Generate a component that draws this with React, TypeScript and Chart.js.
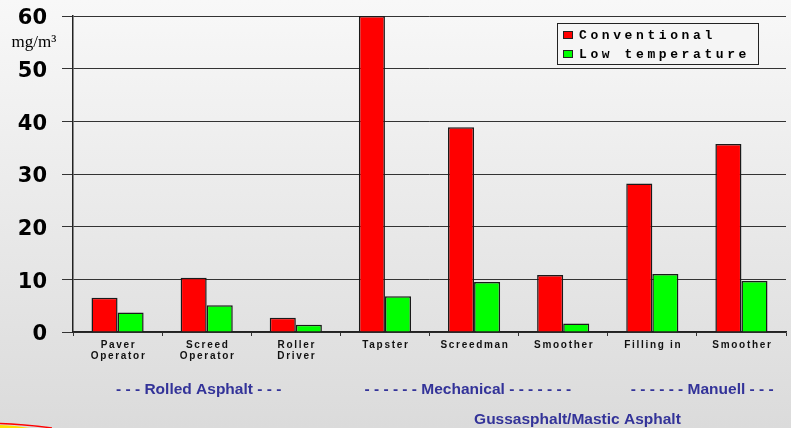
import React, { useEffect, useRef } from "react";
import { Chart, registerables } from "chart.js";

Chart.register(...registerables);

const categories: string[][] = [
  ["Paver", "Operator"],
  ["Screed", "Operator"],
  ["Roller", "Driver"],
  ["Tapster"],
  ["Screedman"],
  ["Smoother"],
  ["Filling in"],
  ["Smoother"],
];
const conventional = [6.5, 10.3, 2.7, 60, 38.9, 10.8, 28.2, 35.7];
const lowTemperature = [3.7, 5.1, 1.4, 6.8, 9.5, 1.6, 11.0, 9.7];
const seriesNames = ["Conventional", "Low temperature"];
const yTicks = [0, 10, 20, 30, 40, 50, 60];
const unitLabel = "mg/m³";
const groupLabels = [
  "- - - Rolled Asphalt - - -",
  "- - - - - - Mechanical - - - - - - -",
  "- - - - - - Manuell - - -",
  "Gussasphalt/Mastic Asphalt",
];
// centers of group labels in category-index units
const groupCenters = [0.91, 3.93, 6.56, 5.16];
const groupRows = [0, 0, 0, 1];

const decorPlugin = {
  id: "decor",
  beforeDraw(chart: any) {
    const { ctx, width, height } = chart;
    ctx.save();
    const g = ctx.createLinearGradient(0, 0, 0, height);
    g.addColorStop(0, "#f8f8f8");
    g.addColorStop(1, "#dbdbdb");
    ctx.fillStyle = g;
    ctx.fillRect(0, 0, width, height);
    // swoosh bottom-left
    ctx.beginPath();
    ctx.moveTo(0, 425);
    ctx.quadraticCurveTo(15, 425.5, 30, 428);
    ctx.lineTo(0, 428);
    ctx.closePath();
    ctx.fillStyle = "#ffe000";
    ctx.fill();
    ctx.beginPath();
    ctx.moveTo(0, 423.5);
    ctx.quadraticCurveTo(22, 424, 52, 428);
    ctx.strokeStyle = "#ff0000";
    ctx.lineWidth = 1.4;
    ctx.stroke();
    ctx.restore();
  },
  afterDraw(chart: any) {
    const { ctx, chartArea } = chart;
    const xs = chart.scales.x;
    ctx.save();
    // unit label
    ctx.fillStyle = "#000";
    ctx.font = "17px 'Liberation Serif', 'Times New Roman', serif";
    ctx.textAlign = "center";
    ctx.textBaseline = "middle";
    ctx.fillText(unitLabel, 34, 43);

    // x labels
    ctx.font = "bold 10px 'Liberation Sans', Arial, sans-serif";
    (ctx as any).letterSpacing = "1.7px";
    ctx.fillStyle = "#111";
    categories.forEach((lines, i) => {
      const x = xs.getPixelForValue(i) + 1;
      lines.forEach((ln, j) => {
        ctx.fillText(ln, x, chartArea.bottom + 13 + j * 11.5);
      });
    });
    (ctx as any).letterSpacing = "0px";

    // group labels
    ctx.font = "bold 15.5px 'Liberation Sans', Arial, sans-serif";
    ctx.fillStyle = "#333399";
    const cw = (chartArea.right - chartArea.left) / categories.length;
    groupLabels.forEach((t, i) => {
      const x = chartArea.left + (groupCenters[i] + 0.5) * cw;
      const y = groupRows[i] === 0 ? 390 : 420;
      ctx.fillText(t, x, y);
    });

    // legend
    const bx = chartArea.right - 229;
    const by = chartArea.top + 7;
    const bw = 201;
    const bh = 41;
    ctx.fillStyle = "#f5f5f5";
    ctx.fillRect(bx, by, bw, bh);
    ctx.strokeStyle = "#222";
    ctx.lineWidth = 1;
    ctx.strokeRect(bx + 0.5, by + 0.5, bw, bh);
    const colors = ["#ff0000", "#00ff00"];
    ctx.font = "bold 13px 'Liberation Mono', 'Courier New', monospace";
    (ctx as any).letterSpacing = "3.6px";
    ctx.textAlign = "left";
    seriesNames.forEach((name, i) => {
      const cy = by + 12 + i * 19;
      ctx.fillStyle = colors[i];
      ctx.fillRect(bx + 6, cy - 3.5, 10, 7);
      ctx.strokeStyle = "#222";
      ctx.strokeRect(bx + 6.5, cy - 3.5, 9, 7);
      ctx.fillStyle = "#000";
      ctx.fillText(name, bx + 22, cy + 1);
    });
    (ctx as any).letterSpacing = "0px";
    ctx.restore();
  },
};

export default function App() {
  const ref = useRef<HTMLCanvasElement | null>(null);
  useEffect(() => {
    document.body.style.margin = "0";
    if (!ref.current) return;
    const chart = new Chart(ref.current, {
      type: "bar",
      data: {
        labels: categories.map((c) => c.join(" ")),
        datasets: [
          {
            label: seriesNames[0],
            data: conventional,
            backgroundColor: "#ff0000",
            borderColor: "#1a1a1a",
            borderWidth: 1.5,
          },
          {
            label: seriesNames[1],
            data: lowTemperature,
            backgroundColor: "#00ff00",
            borderColor: "#1a1a1a",
            borderWidth: 1.5,
          },
        ],
      },
      options: {
        responsive: false,
        animation: false,
        layout: { padding: { top: 16, right: 5, left: 0, bottom: 0 } },
        datasets: { bar: { categoryPercentage: 0.585, barPercentage: 1 } },
        plugins: {
          legend: { display: false },
          tooltip: { enabled: false },
        },
        scales: {
          x: {
            offset: true,
            grid: {
              display: true,
              drawOnChartArea: false,
              drawTicks: true,
              tickLength: 4,
              color: "#333",
              offset: true,
            },
            border: { display: true, color: "#222", width: 1.5 },
            ticks: { display: false },
            afterFit: (s: any) => {
              s.height = 96;
            },
          },
          y: {
            min: 0,
            max: 60,
            afterBuildTicks: (s: any) => {
              s.ticks = yTicks.map((v) => ({ value: v }));
            },
            ticks: {
              padding: 15,
              labelOffset: 3,
              color: "#000",
              font: { family: "'DejaVu Sans', 'Liberation Sans', Arial, sans-serif", size: 21, weight: "bold" },
            },
            grid: { color: "#333", lineWidth: 1, tickLength: 11 },
            border: { display: true, color: "#222", width: 1.5 },
            afterFit: (s: any) => {
              s.width = 73;
              s.paddingTop = 0;
              s.paddingBottom = 0;
            },
          },
        },
      },
      plugins: [decorPlugin],
    });
    return () => chart.destroy();
  }, []);
  return <canvas ref={ref} width={791} height={428} style={{ display: "block" }} />;
}
